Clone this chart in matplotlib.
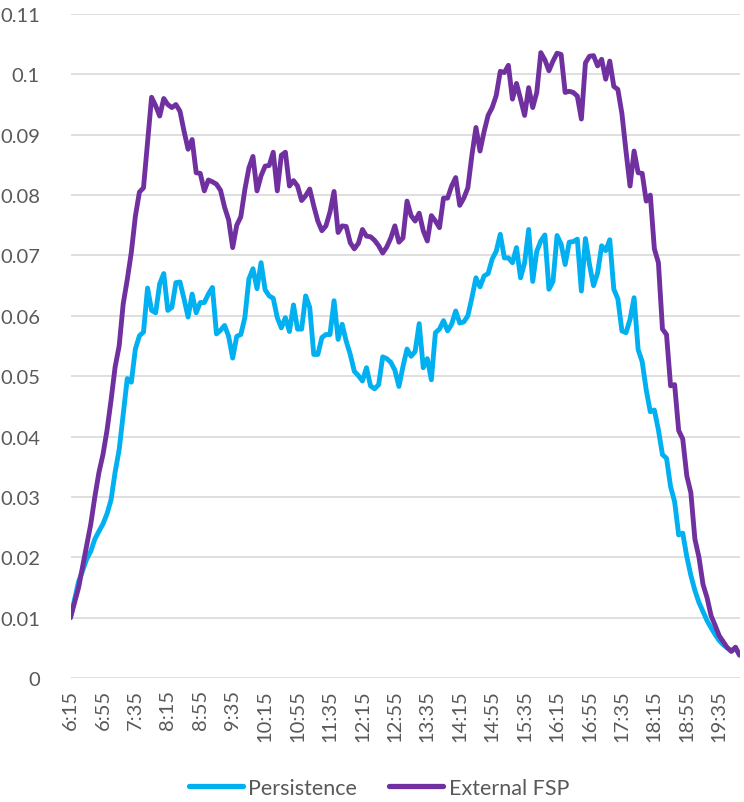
import matplotlib
matplotlib.use("Agg")
import matplotlib.pyplot as plt
from matplotlib.lines import Line2D

plt.rcParams['font.family'] = ['Lato', 'DejaVu Sans']

# time categories 6:15 .. 20:00 every 5 min
times = []
h, m = 6, 15
while (h, m) <= (20, 0):
    times.append(f"{h}:{m:02d}")
    m += 5
    if m == 60:
        h += 1
        m = 0

persistence = [
    0.0100, 0.0130, 0.0160, 0.0178, 0.0197, 0.0210, 0.0230, 0.0243, 0.0255, 0.0272,
    0.0295, 0.0341, 0.0378, 0.0437, 0.0496, 0.0490, 0.0545, 0.0567, 0.0573, 0.0646,
    0.0609, 0.0605, 0.0653, 0.0670, 0.0609, 0.0614, 0.0655, 0.0656, 0.0628, 0.0598,
    0.0636, 0.0605, 0.0622, 0.0622, 0.0636, 0.0647, 0.0570, 0.0576, 0.0584, 0.0566,
    0.0530, 0.0566, 0.0569, 0.0597, 0.0661, 0.0678, 0.0645, 0.0688, 0.0643, 0.0633,
    0.0629, 0.0597, 0.0580, 0.0597, 0.0574, 0.0618, 0.0578, 0.0578, 0.0633, 0.0614,
    0.0536, 0.0536, 0.0564, 0.0569, 0.0569, 0.0625, 0.0561, 0.0586, 0.0558, 0.0536,
    0.0508, 0.0501, 0.0492, 0.0514, 0.0484, 0.0479, 0.0486, 0.0532, 0.0529, 0.0523,
    0.0510, 0.0483, 0.0516, 0.0545, 0.0533, 0.0541, 0.0587, 0.0514, 0.0529, 0.0494,
    0.0572, 0.0578, 0.0592, 0.0575, 0.0586, 0.0608, 0.0588, 0.0590, 0.0600, 0.0630,
    0.0663, 0.0648, 0.0666, 0.0670, 0.0694, 0.0707, 0.0735, 0.0696, 0.0696, 0.0688,
    0.0713, 0.0663, 0.0688, 0.0743, 0.0657, 0.0707, 0.0724, 0.0734, 0.0644, 0.0657,
    0.0733, 0.0719, 0.0685, 0.0722, 0.0723, 0.0727, 0.0641, 0.0728, 0.0685, 0.0650,
    0.0671, 0.0716, 0.0708, 0.0726, 0.0644, 0.0628, 0.0575, 0.0572, 0.0594, 0.0630,
    0.0544, 0.0524, 0.0477, 0.0441, 0.0444, 0.0411, 0.0370, 0.0364, 0.0317, 0.0292,
    0.0237, 0.0240, 0.0201, 0.0170, 0.0145, 0.0125, 0.0110, 0.0095, 0.0083, 0.0072,
    0.0062, 0.0055, 0.0050, 0.0045, 0.0050, 0.0038,
]

external_fsp = [
    0.0100, 0.0125, 0.0150, 0.0185, 0.0220, 0.0255, 0.0300, 0.0340, 0.0370, 0.0410,
    0.0460, 0.0515, 0.0550, 0.0620, 0.0660, 0.0705, 0.0765, 0.0805, 0.0812, 0.0886,
    0.0962, 0.0948, 0.0931, 0.0960, 0.0950, 0.0945, 0.0950, 0.0939, 0.0906, 0.0876,
    0.0892, 0.0837, 0.0836, 0.0807, 0.0825, 0.0822, 0.0818, 0.0808, 0.0780, 0.0759,
    0.0713, 0.0750, 0.0764, 0.0809, 0.0845, 0.0864, 0.0807, 0.0832, 0.0848, 0.0849,
    0.0871, 0.0807, 0.0866, 0.0871, 0.0815, 0.0824, 0.0815, 0.0791, 0.0799, 0.0810,
    0.0782, 0.0757, 0.0741, 0.0749, 0.0772, 0.0806, 0.0738, 0.0749, 0.0748, 0.0721,
    0.0711, 0.0720, 0.0743, 0.0732, 0.0731, 0.0725, 0.0716, 0.0704, 0.0714, 0.0729,
    0.0749, 0.0722, 0.0729, 0.0790, 0.0766, 0.0757, 0.0770, 0.0741, 0.0724, 0.0766,
    0.0757, 0.0746, 0.0795, 0.0795, 0.0815, 0.0829, 0.0783, 0.0795, 0.0812, 0.0866,
    0.0912, 0.0873, 0.0905, 0.0932, 0.0945, 0.0965, 0.1005, 0.1003, 0.1015, 0.0959,
    0.0985, 0.0959, 0.0932, 0.0978, 0.0945, 0.0970, 0.1036, 0.1024, 0.1006, 0.1022,
    0.1035, 0.1033, 0.0970, 0.0972, 0.0970, 0.0964, 0.0926, 0.1019, 0.1030, 0.1031,
    0.1014, 0.1025, 0.0992, 0.1022, 0.0980, 0.0975, 0.0935, 0.0873, 0.0815, 0.0873,
    0.0837, 0.0836, 0.0790, 0.0800, 0.0711, 0.0688, 0.0578, 0.0569, 0.0484, 0.0486,
    0.0410, 0.0396, 0.0335, 0.0307, 0.0230, 0.0200, 0.0155, 0.0133, 0.0103, 0.0087,
    0.0070, 0.0060, 0.0050, 0.0044, 0.0051, 0.0038,
]

y_ticks = [0, 0.01, 0.02, 0.03, 0.04, 0.05, 0.06, 0.07, 0.08, 0.09, 0.1, 0.11]
y_tick_labels = ["0", "0.01", "0.02", "0.03", "0.04", "0.05", "0.06", "0.07",
                 "0.08", "0.09", "0.1", "0.11"]

blue = "#00B0F0"
purple = "#7030A0"
text_col = "#595959"

fig = plt.figure(figsize=(7.44, 8.03), dpi=100)
ax = fig.add_axes([70.5 / 744, 1 - 679 / 803, (739.5 - 70.5) / 744, (679 - 15) / 803])

x = list(range(len(times)))
ax.plot(x, persistence, color=blue, lw=3.5, solid_joinstyle='round', solid_capstyle='round', zorder=3)
ax.plot(x, external_fsp, color=purple, lw=3.5, solid_joinstyle='round', solid_capstyle='round', zorder=4)

ax.set_xlim(0, len(times) - 1)
ax.set_ylim(0, 0.11)
ax.set_yticks(y_ticks)
ax.set_yticklabels(y_tick_labels)
ax.set_xticks(x[::8])
ax.set_xticklabels(times[::8], rotation=90)

for s in ax.spines.values():
    s.set_visible(False)
ax.grid(axis='y', color="#d9d9d9", lw=1.2, zorder=0)
ax.set_axisbelow(True)
ax.tick_params(axis='both', length=0, colors=text_col, labelsize=14.5)
ax.tick_params(axis='y', pad=22)
ax.tick_params(axis='x', pad=8)

handles = [Line2D([0], [0], color=blue, lw=3.8, solid_capstyle='round'),
           Line2D([0], [0], color=purple, lw=3.8, solid_capstyle='round')]
fig.legend(handles, ["Persistence", "External FSP"], loc='center',
           bbox_to_anchor=(379 / 744, 1 - 789 / 803), ncol=2, frameon=False,
           fontsize=15.5, labelcolor=text_col, handlelength=2.5, handletextpad=0.25,
           columnspacing=1.5)

fig.savefig("out.png", dpi=100)
